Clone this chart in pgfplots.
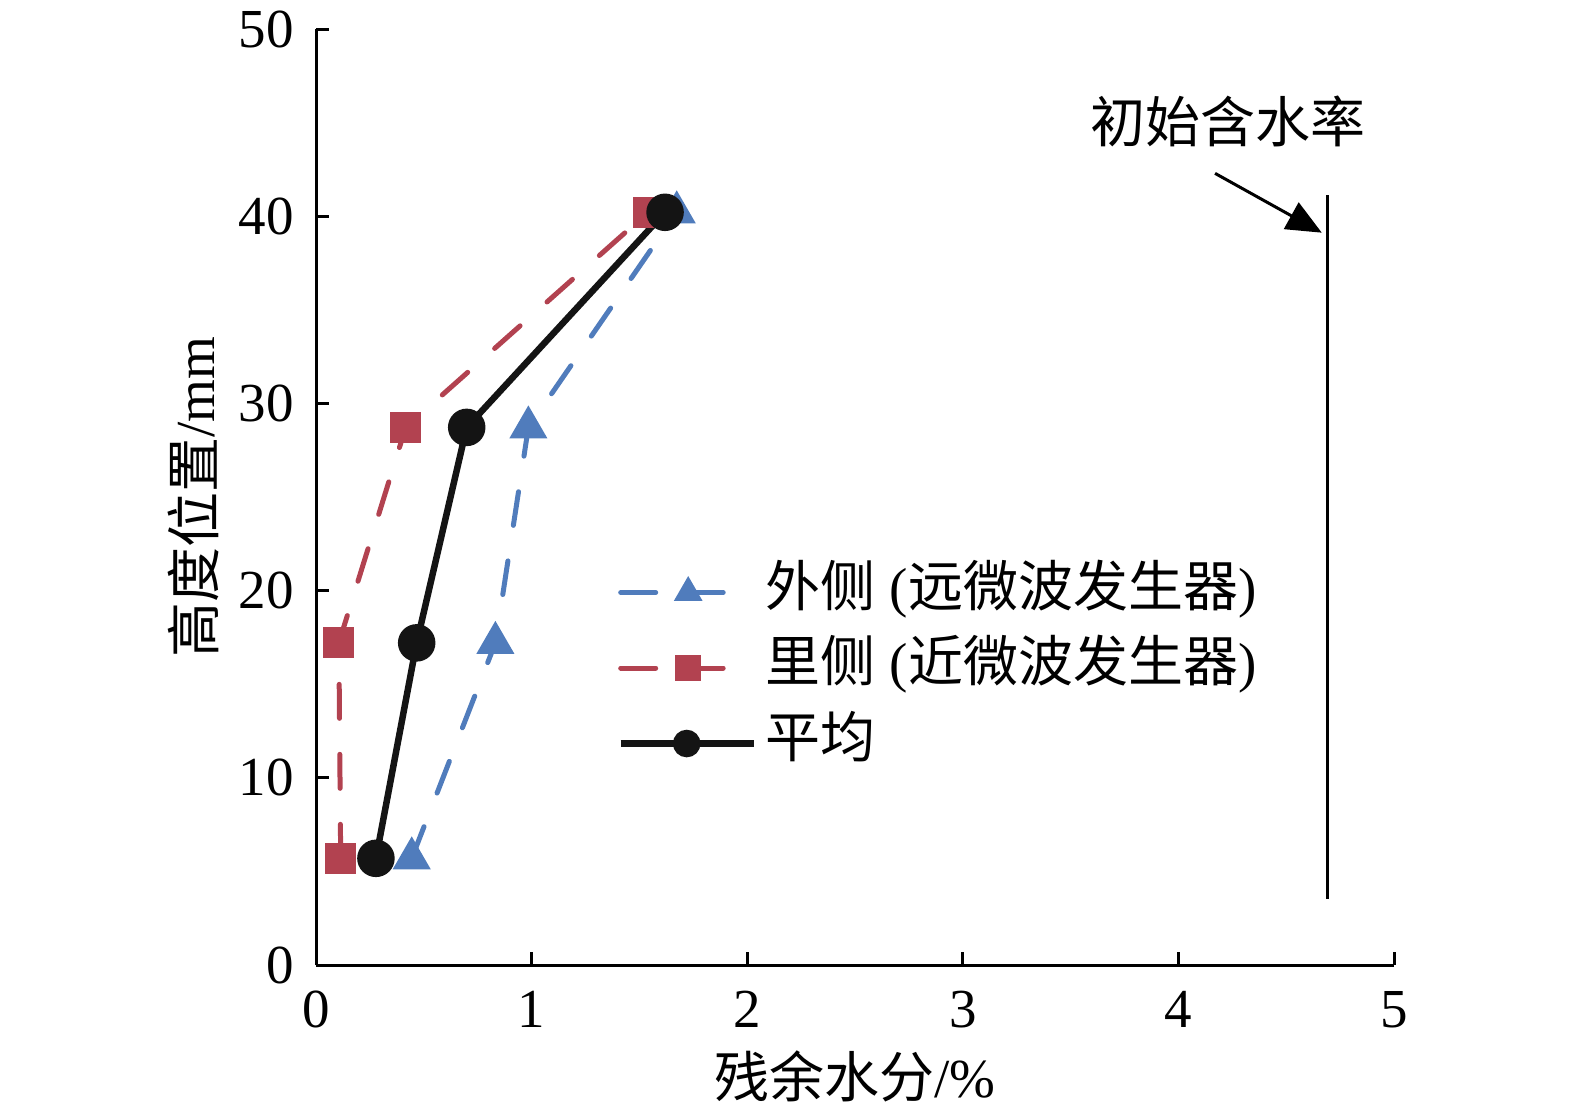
\documentclass[border=0pt]{standalone}
\usepackage{fontspec}
\setmainfont{Liberation Serif}
\newfontfamily\cjk{Noto Sans CJK SC}
\usepackage{pgfplots}
\pgfplotsset{compat=1.18}
\usetikzlibrary{arrows.meta}
\definecolor{cblue}{RGB}{80,124,188}
\definecolor{cred}{RGB}{178,66,80}
\definecolor{cblack}{RGB}{20,20,20}
\begin{document}
\begin{tikzpicture}
\begin{axis}[
 at={(0pt,0pt)}, anchor=south west,
 scale only axis, width=215.6pt, height=187.2pt,
 xmin=0,xmax=5,ymin=0,ymax=50,
 axis lines*=left,
 axis line style={line width=0.6pt},
 xtick={0,1,2,3,4,5}, ytick={0,10,20,30,40,50},
 tick align=inside, major tick length=2.6pt,
 tick style={line width=0.6pt, black},
 /pgf/number format/assume math mode=true,
 ticklabel style={font=\fontsize{11pt}{13pt}\selectfont},
 xticklabel style={yshift=-1.7pt},
 yticklabel style={xshift=-0.9pt},
 label style={font=\fontsize{11pt}{13pt}\selectfont},
 xlabel={{\cjk 残余水分}/\%},
 ylabel={{\cjk 高度位置}/mm},
 xlabel style={at={(axis description cs:0.5,-0.1186)},anchor=center},
 ylabel style={at={(axis description cs:-0.1141,0.5)},anchor=center},
 legend style={draw=none, fill=none, at={(axis description cs:0.2648,0.3173)}, anchor=west,
   font=\fontsize{11pt}{13pt}\selectfont,
   nodes={text height=8pt,text depth=2.5pt,inner ysep=2.3pt,inner xsep=1.8pt}},
 legend cell align=left,
]
\addplot[cblue, line width=1pt, dash pattern=on 6.8pt off 7.2pt, line cap=round, mark=triangle*, mark size=3.4pt, mark options={solid},
 legend image code/.code={\draw[cblue,line width=1pt,line cap=round,dash pattern=on 7pt off 6.5pt,mark=triangle*,mark size=2.3pt,mark options={solid},mark repeat=2,mark phase=2] plot coordinates {(0pt,0pt) (13.5pt,0pt) (21.2pt,0pt)};}]
 coordinates {(0.444,5.70)(0.832,17.21)(0.985,28.72)(1.673,40.21)};
\addlegendentry{{\cjk 外侧} ({\cjk 远微波发生器})}
\addplot[cred, line width=1pt, dash pattern=on 6.8pt off 7.2pt, line cap=round, mark=square*, mark size=2.6pt, mark options={solid},
 legend image code/.code={\draw[cred,line width=1pt,line cap=round,dash pattern=on 7pt off 6.5pt,mark=square*,mark size=2.1pt,mark options={solid},mark repeat=2,mark phase=2] plot coordinates {(0pt,0pt) (13.5pt,0pt) (21.2pt,0pt)};}]
 coordinates {(0.1145,5.70)(0.106,17.21)(0.416,28.72)(1.540,40.21)};
\addlegendentry{{\cjk 里侧} ({\cjk 近微波发生器})}
\addplot[cblack, line width=1.3pt, mark=*, mark size=3.1pt,
 legend image code/.code={\draw[cblack,line width=1.3pt,mark=*,mark size=2.1pt,mark repeat=2,mark phase=2] plot coordinates {(0pt,0pt) (13.2pt,0pt) (26.6pt,0pt)};}]
 coordinates {(0.278,5.70)(0.467,17.21)(0.699,28.72)(1.619,40.21)};
\addlegendentry{{\cjk 平均}}
\addplot[black, line width=0.6pt, forget plot] coordinates {(4.693,3.53)(4.693,41.13)};
\draw[line width=0.6pt, -{Triangle[length=7pt,width=6pt]}] (axis cs:4.170,42.29) -- (axis cs:4.665,39.12);
\node[font=\fontsize{11pt}{13pt}\selectfont] at (axis cs:4.228,45.05) {\cjk 初始含水率};
\end{axis}
\pgfresetboundingbox
\path[use as bounding box] (-63.2pt,-29.6pt) rectangle (251.8pt,193pt);
\end{tikzpicture}
\end{document}
